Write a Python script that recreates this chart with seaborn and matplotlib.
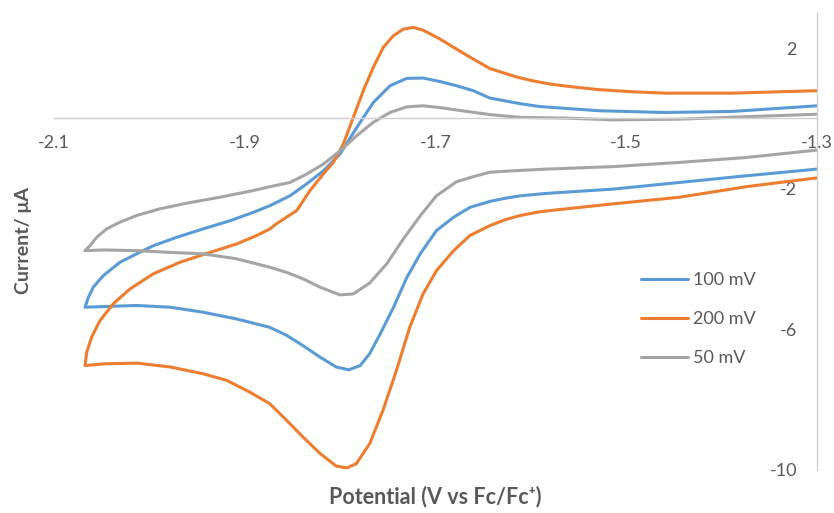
import matplotlib
matplotlib.use("Agg")
import matplotlib.pyplot as plt
import seaborn as sns
import pandas as pd

sns.set_theme(style="white")
plt.rcParams["font.family"] = ["Lato", "DejaVu Sans"]

TEXT = "#595959"
AXIS = "#D0D0D0"

scan_names = ["100 mV", "200 mV", "50 mV"]
scan_colors = ["#5B9BD5", "#ED7D31", "#A5A5A5"]

# Each voltammogram: cathodic sweep from -1.3 V down to the vertex,
# then the anodic return sweep back up to -1.3 V.
v_100 = [-1.300, -1.374, -1.444, -1.514, -1.583, -1.611, -1.627, -1.643, -1.664,
         -1.681, -1.699, -1.716, -1.730, -1.744, -1.758, -1.769, -1.779, -1.791,
         -1.804, -1.821, -1.839, -1.856, -1.874, -1.909, -1.944, -1.978, -2.013,
         -2.048, -2.0675,
         -2.064, -2.0588, -2.0483, -2.0308, -2.0133, -1.9959, -1.9713, -1.9435,
         -1.9155, -1.8910, -1.8735, -1.8526, -1.8350, -1.8176, -1.8001, -1.7826,
         -1.7653, -1.7477, -1.7302, -1.7128, -1.6953, -1.6778, -1.6604, -1.6429,
         -1.611, -1.591, -1.529, -1.459, -1.389, -1.300]
i_100 = [-1.44, -1.63, -1.82, -2.01, -2.13, -2.20, -2.27, -2.36, -2.53,
         -2.81, -3.19, -3.85, -4.52, -5.37, -6.13, -6.69, -7.03, -7.15,
         -7.07, -6.79, -6.46, -6.17, -5.94, -5.70, -5.51, -5.37, -5.32,
         -5.35, -5.37,
         -5.09, -4.80, -4.47, -4.09, -3.85, -3.62, -3.38, -3.14,
         -2.91, -2.67, -2.48, -2.20, -1.86, -1.49, -1.01, -0.26,
         0.45, 0.93, 1.14, 1.15, 1.05, 0.93, 0.79, 0.58,
         0.42, 0.34, 0.22, 0.17, 0.20, 0.36]

v_200 = [-1.300, -1.374, -1.444, -1.514, -1.573, -1.592, -1.611, -1.627, -1.643,
         -1.664, -1.681, -1.699, -1.713, -1.727, -1.741, -1.755, -1.769, -1.783,
         -1.793, -1.804, -1.821, -1.839, -1.856, -1.874, -1.895, -1.919, -1.944,
         -1.978, -2.013, -2.048, -2.0675,
         -2.0657, -2.0605, -2.0518, -2.0378, -2.0203, -1.9959, -1.9679, -1.9364,
         -1.9085, -1.8875, -1.8735, -1.867, -1.8455, -1.8316, -1.8176, -1.8071,
         -1.7967, -1.7862, -1.7757, -1.7653, -1.7548, -1.7443, -1.7338, -1.7233,
         -1.7128, -1.6953, -1.6778, -1.6604, -1.643, -1.615, -1.598, -1.580,
         -1.563, -1.529, -1.494, -1.459, -1.389, -1.300]
i_200 = [-1.69, -1.94, -2.24, -2.43, -2.60, -2.66, -2.76, -2.88, -3.05,
         -3.33, -3.76, -4.33, -4.99, -5.94, -7.17, -8.30, -9.25, -9.82,
         -9.94, -9.89, -9.53, -9.06, -8.59, -8.11, -7.78, -7.45, -7.26,
         -7.07, -6.96, -6.98, -7.03,
         -6.65, -6.22, -5.75, -5.27, -4.85, -4.42, -4.09, -3.81,
         -3.57, -3.33, -3.14, -3.00, -2.62, -2.05, -1.58, -1.25,
         -0.73, 0.03, 0.79, 1.45, 2.02, 2.35, 2.54, 2.59,
         2.51, 2.26, 1.97, 1.69, 1.42, 1.18, 1.07, 0.98,
         0.92, 0.82, 0.76, 0.72, 0.72, 0.79]

v_50 = [-1.300, -1.374, -1.444, -1.514, -1.583, -1.620, -1.643, -1.657, -1.678,
        -1.699, -1.716, -1.734, -1.751, -1.769, -1.786, -1.800, -1.821, -1.839,
        -1.856, -1.874, -1.909, -1.944, -1.978, -2.013, -2.048, -2.0675,
        -2.0623, -2.0552, -2.0447, -2.0308, -2.0133, -1.9889, -1.9609, -1.9260,
        -1.8910, -1.8735, -1.8526, -1.8350, -1.8176, -1.8001, -1.7826, -1.7653,
        -1.7477, -1.7302, -1.7128, -1.6953, -1.6778, -1.6429, -1.611, -1.563,
        -1.514, -1.444, -1.374, -1.300]
i_50 = [-0.90, -1.11, -1.25, -1.37, -1.44, -1.49, -1.53, -1.63, -1.80,
        -2.20, -2.77, -3.44, -4.13, -4.68, -4.99, -5.02, -4.80, -4.56,
        -4.38, -4.23, -3.99, -3.85, -3.81, -3.76, -3.74, -3.76,
        -3.62, -3.38, -3.14, -2.95, -2.76, -2.57, -2.41, -2.24,
        -2.05, -1.94, -1.82, -1.58, -1.30, -0.92, -0.49, -0.11,
        0.17, 0.33, 0.36, 0.31, 0.24, 0.11, 0.03, 0.01,
        -0.04, -0.02, 0.05, 0.12]

x_ticks = [-2.1, -1.9, -1.7, -1.5, -1.3]
y_ticks = [-10, -6, -2, 2]

frames = []
for name, v, i in zip(scan_names, [v_100, v_200, v_50], [i_100, i_200, i_50]):
    frames.append(pd.DataFrame({"Potential": v, "Current": i, "scan": name,
                                "step": range(len(v))}))
df = pd.concat(frames, ignore_index=True)

W, H = 834, 513
fig = plt.figure(figsize=(W / 100, H / 100), dpi=100)
left, right, top, bottom = 54, 817, 13, 470
ax = fig.add_axes([left / W, 1 - bottom / H, (right - left) / W, (bottom - top) / H])

sns.lineplot(data=df, x="Potential", y="Current", hue="scan", hue_order=scan_names,
             palette=scan_colors, sort=False, estimator=None, linewidth=2.2,
             solid_joinstyle="round", solid_capstyle="round", ax=ax)

ax.set_xlim(-2.1, -1.3)
ax.set_ylim(-10, 3)
ax.set_xticks(x_ticks)
ax.set_xticklabels([f"{t:.1f}" for t in x_ticks])
ax.set_yticks(y_ticks)
ax.set_yticklabels([str(t) for t in y_ticks])

for s in ["left", "top"]:
    ax.spines[s].set_visible(False)
ax.spines["bottom"].set_position(("data", 0))
ax.spines["bottom"].set_color(AXIS)
ax.spines["bottom"].set_linewidth(1.0)
ax.spines["right"].set_color(AXIS)
ax.spines["right"].set_linewidth(1.0)

ax.yaxis.tick_right()
ax.tick_params(axis="x", length=0, pad=12, labelsize=13, labelcolor=TEXT)
ax.tick_params(axis="y", length=0, pad=-14.4, labelsize=13, labelcolor=TEXT)
for lab in ax.get_yticklabels():
    lab.set_horizontalalignment("right")

ax.set_xlabel("Potential (V vs Fc/Fc\u207a)", fontsize=15.5, fontweight="bold",
              color=TEXT, va="center")
ax.xaxis.set_label_coords(0.5, (bottom - 497) / (bottom - top))
ax.set_ylabel("Current/ \u03bcA", fontsize=14, fontweight="bold", color=TEXT)
ax.yaxis.label.set_rotation_mode("default")
ax.yaxis.label.set_verticalalignment("center")
ax.yaxis.label.set_horizontalalignment("center")
ax.yaxis.set_label_coords((24 - left) / (right - left), (bottom - 241) / (bottom - top))

ax.legend(frameon=False, loc="upper left",
          bbox_to_anchor=(641 / W, 1 - 272 / H), bbox_transform=fig.transFigure,
          fontsize=13, labelcolor=TEXT, handlelength=2.6, handletextpad=0.28,
          labelspacing=1.27, borderpad=0, borderaxespad=0)

fig.savefig("out.png", dpi=100)
